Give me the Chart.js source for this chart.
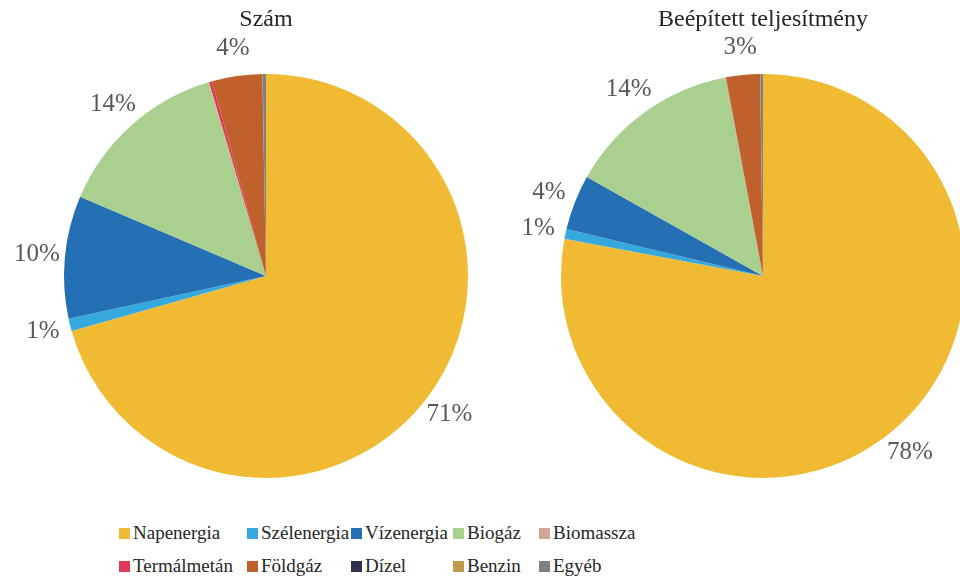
<!DOCTYPE html>
<html>
<head>
<meta charset="utf-8">
<script src="https://cdn.jsdelivr.net/npm/chart.js@4"></script>
<style>
    html, body { margin: 0; padding: 0; background: #fff; }
    body { width: 960px; height: 580px; overflow: hidden; position: relative; font-family: 'Liberation Serif', serif; }
    .pie-box { position: absolute; top: 0; width: 532px; height: 500px; }
    #legend { position: absolute; left: 119px; top: 518px; display: grid; grid-template-columns: 128px 104px 102px 86px 140px; row-gap: 3px; }
    .lg-item { display: flex; align-items: center; font-family: 'Liberation Serif', serif; font-size: 19px; line-height: 30px; color: #262626; white-space: nowrap; }
    .lg-box { flex: 0 0 11px; height: 11px; margin-right: 3px; }
</style>
</head>
<body>
<div class="pie-box" style="left:0px"><canvas id="chartCount"></canvas></div>
<div class="pie-box" style="left:497px"><canvas id="chartPower"></canvas></div>
<div id="legend"></div>

<script>
// energy source categories (legend order)
const categories = ["Napenergia", "Szélenergia", "Vízenergia", "Biogáz", "Biomassza", "Termálmetán", "Földgáz", "Dízel", "Benzin", "Egyéb"];
const colors = ["#F0BB33", "#35A9DE", "#2570B4", "#AAD08F", "#D4A596", "#E0395B", "#C0602C", "#33304F", "#BF9B4B", "#7F7F7F"];

// shares in %
const countShare = [70.6, 1.0, 9.8, 14.0, 0.05, 0.25, 4.0, 0.02, 0.02, 0.26];
const powerShare = [78.0, 0.8, 4.4, 13.9, 0.02, 0.02, 2.7, 0.02, 0.02, 0.2];

const titles = ["Szám", "Beépített teljesítmény"];
const FONT = "'Liberation Serif', serif";
Chart.defaults.font.family = FONT;

// percent labels outside the slices
const outsideLabels = {
    id: 'outsideLabels',
    afterDatasetsDraw(chart) {
        const ctx = chart.ctx;
        const meta = chart.getDatasetMeta(0);
        const data = chart.data.datasets[0].data;
        const total = data.reduce((a, b) => a + b, 0);
        ctx.save();
        ctx.font = "25px 'Liberation Serif', serif";
        ctx.fillStyle = '#595959';
        ctx.textAlign = 'center';
        ctx.textBaseline = 'middle';
        meta.data.forEach((arc, i) => {
            const pct = data[i] / total * 100;
            if (pct < 0.5) return;
            const p = arc.getProps(['x', 'y', 'startAngle', 'endAngle', 'outerRadius'], true);
            const mid = (p.startAngle + p.endAngle) / 2;
            const r = p.outerRadius + 28;
            ctx.fillText(Math.round(pct) + '%', p.x + Math.cos(mid) * r, p.y + Math.sin(mid) * r);
        });
        ctx.restore();
    }
};

function makePie(id, values, title) {
    new Chart(document.getElementById(id).getContext('2d'), {
        type: 'pie',
        data: { labels: categories, datasets: [{ data: values, backgroundColor: colors, borderWidth: 0 }] },
        options: {
            responsive: true,
            maintainAspectRatio: false,
            animation: false,
            layout: { padding: { left: 64, right: 64, top: 0, bottom: 22 } },
            plugins: {
                legend: { display: false },
                tooltip: { enabled: false },
                title: {
                    display: true, text: title, color: '#262626',
                    font: { family: FONT, size: 24, weight: 'normal', lineHeight: 1.2 },
                    padding: { top: 5, bottom: 40 }
                }
            }
        },
        plugins: [outsideLabels]
    });
}

makePie('chartCount', countShare, titles[0]);
makePie('chartPower', powerShare, titles[1]);

document.getElementById('legend').innerHTML = categories.map((c, i) =>
    `<div class="lg-item"><span class="lg-box" style="background:${colors[i]}"></span>${c}</div>`
).join('');
</script>
</body>
</html>
